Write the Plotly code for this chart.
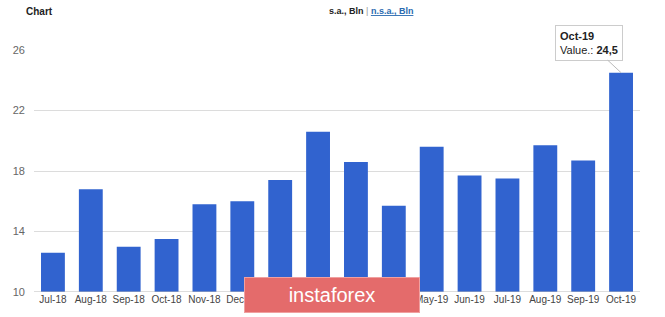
import plotly.graph_objects as go

categories = ["Jul-18", "Aug-18", "Sep-18", "Oct-18", "Nov-18", "Dec-18", "Jan-19", "Feb-19",
              "Mar-19", "Apr-19", "May-19", "Jun-19", "Jul-19", "Aug-19", "Sep-19", "Oct-19"]
values = [12.6, 16.8, 13.0, 13.5, 15.8, 16.0, 17.4, 20.6, 18.6, 15.7, 19.6, 17.7, 17.5, 19.7, 18.7, 24.5]
y_ticks = [10, 14, 18, 22, 26]

fig = go.Figure(go.Bar(x=categories, y=values, marker_color="#3163CF", marker_line_width=0))

fig.update_layout(
    width=665, height=317,
    margin=dict(l=34, r=25, t=50, b=17),
    paper_bgcolor="white", plot_bgcolor="white",
    bargap=0.37,
    showlegend=False,
    font=dict(family="Liberation Sans, Arial", size=10, color="#555"),
)
fig.update_xaxes(showgrid=False, showline=False, ticks="", tickfont=dict(size=10, color="#444"))
fig.update_yaxes(range=[10, 26], tickvals=y_ticks, showgrid=True, gridcolor="#dcdcdc",
                 zeroline=False, showline=False, ticks="", ticklabelstandoff=8,
                 tickfont=dict(size=11, color="#666"))
fig.add_shape(type="line", xref="paper", yref="y", x0=0, x1=1, y0=10, y1=10,
              line=dict(color="#bbb", width=1))

# header
fig.add_annotation(xref="paper", yref="paper", x=-0.016, y=1.16, xanchor="left", yanchor="middle",
                   text="<b>Chart</b>", showarrow=False, font=dict(size=10, color="#222"))
fig.add_annotation(xref="paper", yref="paper", x=0.556, y=1.16, xanchor="center", yanchor="middle",
                   text="<b>s.a., Bln</b> <span style='color:#999'>|</span> <span style='color:#2a6ab0'><b><u>n.s.a., Bln</u></b></span>",
                   showarrow=False, font=dict(size=9, color="#222"))

# tooltip
fig.add_annotation(x=categories[-1], y=values[-1], xref="x", yref="y",
                   text="<b>Oct-19</b><br>Value.: <b>24,5</b>", align="left",
                   showarrow=True, arrowhead=0, arrowwidth=1, arrowcolor="#bbb",
                   ax=-32, ay=-30, bgcolor="white", bordercolor="#ccc", borderwidth=1, borderpad=4,
                   font=dict(size=11, color="#222"))

# watermark
fig.add_annotation(xref="paper", yref="paper", x=0.492, y=0.06, xanchor="center", yanchor="top",
                   text="instaforex", showarrow=False, bgcolor="#e46b6b", bordercolor="#f0a0a0",
                   borderwidth=1, width=172, height=32, font=dict(size=20, color="white"))
fig.write_html("out.html")
